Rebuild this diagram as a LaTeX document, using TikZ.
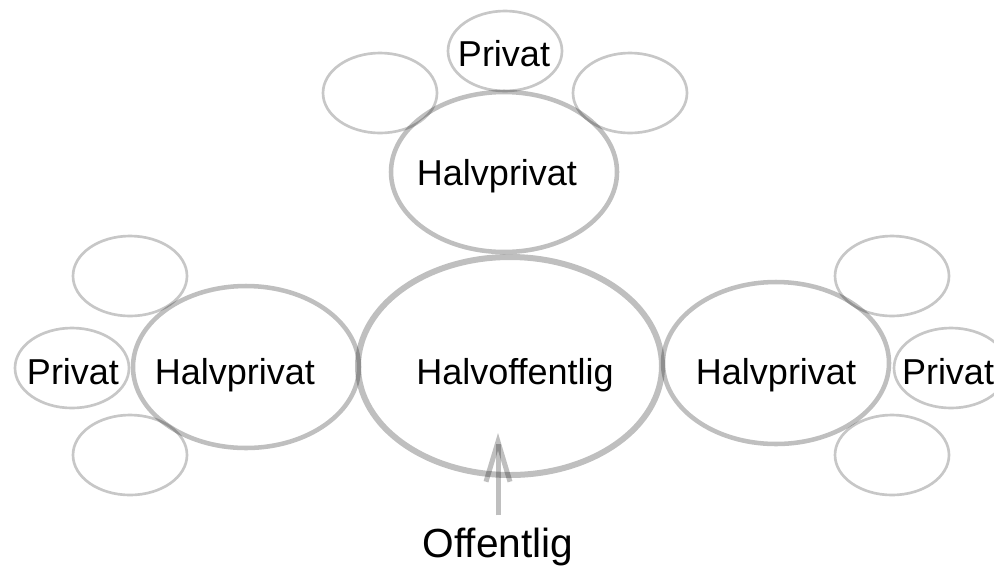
\documentclass[tikz,border=0pt]{standalone}
\usepackage{fontspec}
\setmainfont{Liberation Sans}
\usetikzlibrary{shapes.geometric,arrows.meta}
\newcommand{\ctext}[3]{\makebox[0pt]{\hspace*{#1}\raisebox{#2}[0pt][0pt]{#3}}}
\tikzset{
  big/.style={ellipse, draw=black, draw opacity=0.25, line width=4.5pt, inner sep=0pt,
    minimum width=228pt, minimum height=163.5pt},
  mid/.style={ellipse, draw=black, draw opacity=0.25, line width=3.4pt, inner sep=0pt,
    minimum width=169.5pt, minimum height=121.5pt},
  small/.style={ellipse, draw=black, draw opacity=0.22, line width=2pt, inner sep=0pt,
    minimum width=85.5pt, minimum height=60pt},
  lbl/.style={font=\fontsize{27}{31}\selectfont, text=black},
  biglbl/.style={font=\fontsize{30.5}{35}\selectfont, text=black},
  arr/.style={draw=black, draw opacity=0.25, line width=3.75pt,
    -{Straight Barb[length=30pt,width=18pt]}}
}
\begin{document}
\begin{tikzpicture}[x=0.75pt,y=-0.75pt]
\useasboundingbox (0,0) rectangle (994,565);
% small ellipses
\node[small,lbl] (ptop) at (505,51) {\ctext{-1.5pt}{-11.6pt}{Privat}};
\node[small] (etl) at (380,93) {};
\node[small] (etr) at (630,93) {};
\node[small] (elt) at (130,276) {};
\node[small,lbl] (pleft) at (72,368) {\ctext{1.5pt}{-12.4pt}{Privat}};
\node[small] (elb) at (130,455) {};
\node[small] (ert) at (892,276) {};
\node[small,lbl] (pright) at (951,368) {\ctext{-4.5pt}{-12.4pt}{Privat}};
\node[small] (erb) at (892,455) {};
% semi-private
\node[mid,lbl,minimum height=120pt] (htop) at (504,172) {\ctext{-10.5pt}{-9.75pt}{Halvprivat}};
\node[mid,lbl] (hleft) at (246,367) {\ctext{-16.5pt}{-13.1pt}{Halvprivat}};
\node[mid,lbl] (hright) at (776,363) {\ctext{0pt}{-15.75pt}{Halvprivat}};
% semi-public
\node[big,lbl] (pub) at (510,366) {\ctext{7.5pt}{-13.9pt}{Halvoffentlig}};
% public
\node[biglbl, anchor=base, inner sep=0pt] (off) at (498,557) {Offentlig};
\coordinate (tip) at (498,433);
\draw[arr, shorten <=9pt] (off.north) -- (tip);
\end{tikzpicture}
\end{document}
